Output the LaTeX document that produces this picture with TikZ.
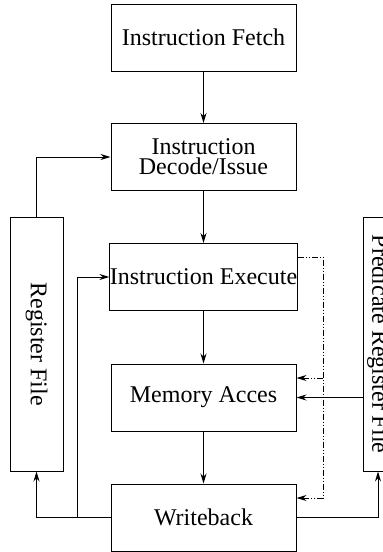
\documentclass[tikz,border=0pt]{standalone}
\usepackage{fontspec}
\setmainfont{Liberation Serif}
\usetikzlibrary{arrows.meta}

\tikzset{
    stage/.style={draw, line width=0.5pt, minimum width=92.5pt, minimum height=33.5pt,
        inner xsep=0pt, align=center, font=\fontsize{12pt}{10pt}\selectfont},
    regbox/.style={draw, line width=0.5pt, rotate=-90, inner sep=0pt,
        font=\fontsize{12pt}{10pt}\selectfont},
    link/.style={line width=0.5pt, ->},
    guard/.style={line width=0.5pt, ->,
        dash pattern=on 3pt off 1pt on 0.5pt off 1pt on 0.5pt off 1pt},
}

\begin{document}
\begin{tikzpicture}[x=0.5pt, y=-0.5pt, >={Stealth[length=5pt,width=3pt]}]
    \useasboundingbox (0,0) rectangle (382,552);

    % pipeline stages
    \node[stage] (fetch)  at (203.5,37.5)  {Instruction Fetch};
    \node[stage] (decode) at (203.5,157)   {Instruction\\Decode/Issue};
    \node[stage] (exec)   at (203.5,277)   {Instruction Execute};
    \node[stage] (mem)    at (203.5,397.5) {Memory Acces};
    \node[stage] (wb)     at (203.5,517.5) {Writeback};

    % register files
    \node[regbox, minimum width=127pt, minimum height=26.5pt] (regfile) at (36.5,344) {Register File};
    \node[regbox, minimum width=127pt, minimum height=15pt] (predfile) at (378,344) {Predicate Register File};

    \draw[link] (fetch) -- (decode);
    \draw[link] (decode) -- (exec);
    \draw[link] (exec) -- (mem);
    \draw[link] (mem) -- (wb);

    \draw[link] (regfile.west) |- (decode.west);
    \draw[link] (wb.west) -| (regfile.east);
    \coordinate (tap) at (77,517.5);
    \draw[link] (tap) |- (exec.west);

    \draw[link] (wb.east) -| (predfile.east);
    \draw[link] (predfile.south |- mem.east) -- (mem.east);

    % predicate guard
    \coordinate (guardout) at ([yshift=10pt]exec.east);
    \coordinate (guardmem) at ([yshift=9.75pt]mem.east);
    \coordinate (guardwb)  at ([yshift=9.75pt]wb.east);
    \coordinate (bus) at (323,257);
    \draw[guard] (guardout) -- (bus) |- (guardwb);
    \draw[guard] (bus |- guardmem) -- (guardmem);
\end{tikzpicture}
\end{document}
